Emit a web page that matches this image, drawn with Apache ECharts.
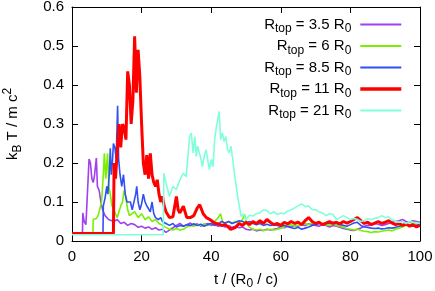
<!DOCTYPE html>
<html><head><meta charset="utf-8">
<script src="https://cdn.jsdelivr.net/npm/echarts@6/dist/echarts.min.js"></script>
<style>html,body{margin:0;padding:0;background:#fff}#c{width:435px;height:291px}</style>
</head><body><div id="c"></div>
<script>
// Tick labels
var xTicks = [0, 20, 40, 60, 80, 100];
var yTicks = [0, 0.1, 0.2, 0.3, 0.4, 0.5, 0.6];
var rTop = ['3.5', '6', '8.5', '11', '21'];
var colors = ['#a040f0', '#78f000', '#3050f0', '#ff0000', '#80ffdc'];

// R_top = 3.5 R0
var purpleT = [0,3,3.1,3.5,4,4.5,4.9,5.3,5.7,6.1,6.5,7,7.3,7.8,8.3,8.8,9.5,10,10.5,11,12,13,14,15,16,17,18,19,20,21,22,23,24,25,26,27,28,29,30,31,32,33,34,35,36,37,38,39,40,41,42,43,44,45,46,47,48,49,50,51,52,53,54,55,56,57,58,59,60,61,62,63,64,65,66,67,68,69,70,71,72,73,74,75,76,77,78,79,80,81,82,83,84,85,86,87,88,89,90,91,92,93,94,95,96,97,98,99,100];
var purpleV = [0.018,0.018,0.072,0.05,0.042,0.045,0.21,0.2,0.16,0.15,0.17,0.213,0.14,0.13,0.1,0.08,0.065,0.07,0.055,0.05,0.05,0.055,0.045,0.048,0.04,0.045,0.042,0.035,0.038,0.033,0.036,0.03,0.034,0.028,0.03,0.022,0.028,0.034,0.04,0.045,0.038,0.042,0.046,0.04,0.044,0.038,0.042,0.045,0.04,0.043,0.038,0.04,0.036,0.04,0.035,0.038,0.034,0.036,0.03,0.028,0.03,0.026,0.028,0.027,0.03,0.028,0.03,0.032,0.036,0.034,0.038,0.036,0.04,0.038,0.042,0.04,0.044,0.042,0.04,0.038,0.042,0.04,0.036,0.04,0.038,0.035,0.032,0.03,0.028,0.027,0.03,0.033,0.038,0.04,0.042,0.045,0.043,0.04,0.042,0.045,0.048,0.05,0.052,0.055,0.05,0.048,0.052,0.05,0.048];

// R_top = 6 R0
var greenT = [0,6,6.1,6.5,7,7.5,8,8.5,9,9.3,9.7,10.2,10.6,11,11.5,12,12.5,13,13.5,14,14.5,15,15.5,16,16.5,17,18,19,20,21,22,23,24,25,26,27,28,29,30,31,32,33,34,35,36,37,38,39,40,41,42,42.7,43.3,44,45,46,47,48,49,49.6,50.2,51,52,53,54,55,56,57,58,59,60,61,62,63,64,65,66,67,68,69,70,71,72,73,74,75,76,77,78,79,80,81,82,83,84,85,86,87,88,89,90,91,92,93,94,95,96,97,98,99,100];
var greenV = [0.018,0.018,0.055,0.06,0.058,0.065,0.07,0.1,0.17,0.225,0.16,0.225,0.14,0.12,0.09,0.085,0.07,0.06,0.075,0.09,0.1,0.13,0.11,0.08,0.065,0.06,0.075,0.06,0.07,0.055,0.062,0.05,0.055,0.045,0.04,0.035,0.03,0.028,0.032,0.028,0.03,0.036,0.04,0.038,0.042,0.04,0.044,0.04,0.045,0.05,0.06,0.07,0.048,0.045,0.05,0.046,0.05,0.048,0.055,0.068,0.045,0.035,0.03,0.028,0.03,0.027,0.029,0.03,0.028,0.03,0.033,0.036,0.04,0.042,0.038,0.04,0.043,0.045,0.042,0.046,0.044,0.048,0.045,0.042,0.04,0.044,0.04,0.038,0.035,0.032,0.03,0.028,0.03,0.027,0.025,0.024,0.022,0.024,0.023,0.025,0.027,0.028,0.026,0.03,0.033,0.036,0.04,0.042,0.045,0.043,0.044];

// R_top = 8.5 R0
var blueT = [0,8.9,9,9.5,10,10.3,10.7,11,11.3,11.6,11.9,12.3,12.7,13.1,13.4,13.8,14.3,14.8,15.3,15.8,16.3,16.8,17.3,17.8,18.3,18.6,19,19.5,20,20.5,21,21.5,22,22.5,23,23.5,24,24.8,25.5,26,27,28,29,30,31,32,33,34,35,36,37,38,39,40,41,42,43,44,45,46,47,48,49,50,51,52,53,54,55,56,57,58,59,60,61,62,63,64,65,66,67,68,69,70,71,72,73,74,75,76,77,78,79,80,81,82,83,84,85,86,87,88,89,90,91,92,93,94,95,96,97,98,99,100];
var blueV = [0.018,0.018,0.09,0.11,0.14,0.12,0.17,0.238,0.17,0.2,0.25,0.24,0.21,0.347,0.21,0.17,0.14,0.17,0.12,0.1,0.095,0.1,0.08,0.085,0.12,0.14,0.1,0.08,0.095,0.12,0.1,0.09,0.085,0.075,0.1,0.07,0.06,0.055,0.06,0.05,0.045,0.04,0.045,0.036,0.04,0.038,0.042,0.04,0.044,0.04,0.043,0.038,0.042,0.045,0.04,0.044,0.05,0.046,0.05,0.045,0.048,0.052,0.05,0.046,0.05,0.045,0.042,0.045,0.04,0.043,0.04,0.042,0.04,0.038,0.04,0.037,0.034,0.032,0.035,0.03,0.033,0.036,0.04,0.042,0.045,0.043,0.046,0.045,0.048,0.045,0.042,0.04,0.038,0.042,0.046,0.048,0.04,0.036,0.035,0.033,0.032,0.033,0.031,0.032,0.034,0.033,0.035,0.038,0.04,0.042,0.04,0.038,0.04,0.042];

// R_top = 11 R0
var redT = [0,11.9,12.1,12.5,13,13.5,14,14.5,15,15.5,16,16.5,17,17.5,18,18.5,19,19.5,20,20.5,21,21.5,22,22.5,23,23.5,24,24.5,25,25.5,26,26.5,27,27.5,28,29,30,30.5,31,32,33,34,35,36,36.7,37.7,38.6,39.6,41,42,43,44,45,45.6,46,47,48,49,50,51,52,53,54,55,56,57,58,59,60,61,62,63,64,65,66,67,68,69,70,71,72,73,74,75,76,77,78,79,80,81,82,83,84,85,86,87,88,89,90,91,92,93,94,95,96,97,98,99,100];
var redV = [0.019,0.019,0.2,0.16,0.23,0.3,0.24,0.3,0.29,0.26,0.435,0.4,0.3,0.36,0.525,0.38,0.49,0.42,0.3,0.2,0.17,0.22,0.16,0.225,0.17,0.15,0.14,0.157,0.12,0.1,0.114,0.09,0.075,0.07,0.06,0.062,0.114,0.08,0.072,0.089,0.06,0.06,0.065,0.085,0.093,0.07,0.06,0.055,0.046,0.044,0.04,0.042,0.035,0.03,0.025,0.035,0.045,0.04,0.048,0.042,0.05,0.045,0.052,0.045,0.055,0.048,0.042,0.045,0.04,0.048,0.044,0.05,0.045,0.048,0.042,0.052,0.06,0.05,0.045,0.048,0.042,0.046,0.05,0.045,0.048,0.044,0.05,0.046,0.05,0.055,0.06,0.052,0.045,0.048,0.042,0.046,0.05,0.045,0.048,0.052,0.046,0.042,0.045,0.04,0.044,0.038,0.042,0.036,0.04];

// R_top = 21 R0
var cyanT = [0,26.2,26.4,27,27.5,28,29,30,31,32,32.8,33.3,33.8,34.3,34.8,35.3,35.7,36.1,36.6,37.1,37.5,38,38.5,39,39.5,40,40.5,41,41.5,42.3,42.7,43.2,43.7,44.2,44.7,45.2,45.7,46.2,46.7,47.2,47.6,48.1,48.6,49.3,50,51,52,53,54,55,56,57,58,59,60,61,62,63,64,65,66,67,68,69,70,71,72,73,74,75,76,77,78,79,80,81,82,83,84,85,86,87,88,89,90,91,92,93,94,95,96,97,98,99,100];
var cyanV = [0.016,0.016,0.174,0.149,0.132,0.114,0.14,0.132,0.157,0.174,0.165,0.217,0.268,0.277,0.226,0.268,0.217,0.243,0.226,0.209,0.191,0.217,0.234,0.209,0.183,0.209,0.19,0.26,0.294,0.332,0.26,0.277,0.255,0.268,0.234,0.226,0.243,0.209,0.17,0.14,0.114,0.089,0.063,0.07,0.055,0.066,0.064,0.07,0.072,0.08,0.078,0.07,0.075,0.068,0.072,0.07,0.077,0.08,0.085,0.09,0.095,0.088,0.09,0.08,0.08,0.075,0.072,0.065,0.07,0.068,0.055,0.06,0.065,0.06,0.055,0.058,0.055,0.05,0.052,0.057,0.055,0.058,0.06,0.065,0.06,0.062,0.055,0.05,0.048,0.05,0.045,0.05,0.048,0.047,0.045];

var seriesT = [purpleT, greenT, blueT, redT, cyanT];
var seriesV = [purpleV, greenV, blueV, redV, cyanV];
var widths = [1.6, 1.6, 1.6, 3, 1.6];

var FONT = '"Liberation Sans", Arial, Helvetica, sans-serif';
var rich = {
  n: {fontSize: 15, fontFamily: FONT, color: '#000', lineHeight: 14},
  s: {fontSize: 12, fontFamily: FONT, color: '#000', lineHeight: 14, padding: [9, 0, 0, 0]},
  p: {fontSize: 12, fontFamily: FONT, color: '#000', lineHeight: 14, padding: [0, 0, 10, 0]}
};
function zip(t, v) { var out = []; for (var i = 0; i < t.length; i++) out.push([t[i], v[i]]); return out; }
function legName(r) { return 'R_top = ' + r + ' R_0'; }

var series = seriesT.map(function (t, i) {
  return {
    name: legName(rTop[i]), type: 'line', data: zip(t, seriesV[i]),
    symbol: 'none', showSymbol: false, animation: false,
    xAxisIndex: 0, yAxisIndex: 0,
    lineStyle: {color: colors[i], width: widths[i]}, itemStyle: {color: colors[i]}
  };
});

var axisCommon = {
  axisLine: {show: true, onZero: false, lineStyle: {color: '#000', width: 1}},
  axisTick: {show: true, inside: true, length: 6, lineStyle: {color: '#000', width: 1}},
  splitLine: {show: false}
};
function ax(extra) { return Object.assign({}, JSON.parse(JSON.stringify(axisCommon)), extra); }

var chart = echarts.init(document.getElementById('c'), null, {renderer: 'canvas'});
chart.setOption({
  animation: false,
  backgroundColor: '#fff',
  grid: {left: 72, right: 15, top: 7, bottom: 50, containLabel: false, outerBoundsMode: 'none'},
  xAxis: [
    ax({type: 'value', position: 'bottom', min: xTicks[0], max: xTicks[xTicks.length - 1], interval: 20,
      axisLabel: {color: '#000', fontSize: 15, fontFamily: FONT, margin: 8},
      name: '{n|t / (R}{s|0}{n| / c)}', nameLocation: 'middle', nameGap: 28,
      nameTextStyle: {rich: rich}}),
    ax({type: 'value', position: 'top', min: xTicks[0], max: xTicks[xTicks.length - 1], interval: 20,
      axisLabel: {show: false}})
  ],
  yAxis: [
    ax({type: 'value', position: 'left', min: yTicks[0], max: yTicks[yTicks.length - 1], interval: 0.1,
      axisLabel: {color: '#000', fontSize: 15, fontFamily: FONT, margin: 8,
        formatter: function (v) { return v === 0 ? '0' : v.toFixed(1); }},
      name: '{n|k}{s|B}{n| T / m c}{p|2}', nameLocation: 'middle', nameGap: 52, nameRotate: 90,
      nameTextStyle: {rich: rich}}),
    ax({type: 'value', position: 'right', min: yTicks[0], max: yTicks[yTicks.length - 1], interval: 0.1,
      axisLabel: {show: false}})
  ],
  legend: {
    orient: 'vertical', align: 'right', right: 32, top: 14,
    itemWidth: 41, itemHeight: 14, itemGap: 0.5, padding: 0,
    textStyle: {rich: rich, lineHeight: 14, padding: [0, 4, 0, 0]},
    formatter: function (name) {
      var r = name.replace('R_top = ', '').replace(' R_0', '');
      return '{n|R}{s|top}{n| = ' + r + ' R}{s|0}';
    },
    data: series.map(function (s, i) {
      return {name: s.name, icon: 'line',
        itemStyle: {color: colors[i], borderColor: colors[i], borderWidth: widths[i] + 0.4}};
    })
  },
  series: series
});
</script></body></html>
